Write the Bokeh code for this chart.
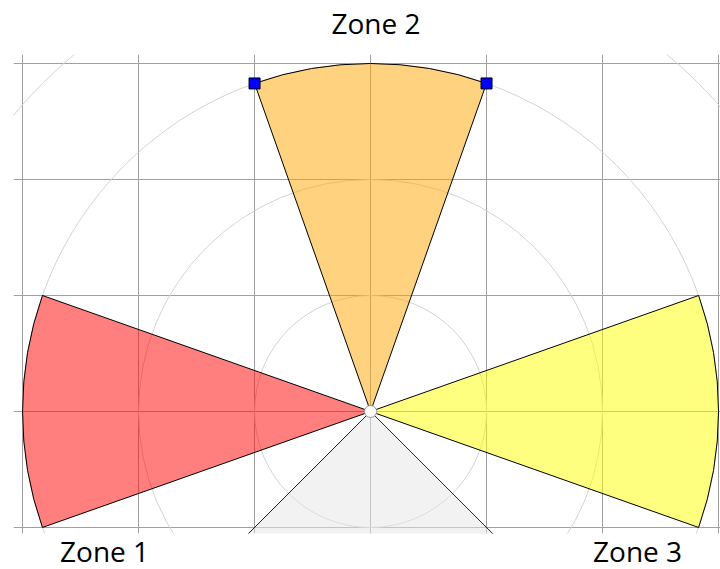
import math
from bokeh.plotting import figure
from bokeh.models import Range1d, FixedTicker, LinearAxis
from bokeh.embed import file_html
from bokeh.resources import INLINE

# Data
zone_names = ["Zone 1", "Zone 2", "Zone 3"]
zone_center_deg = [180, 90, 0]
zone_half_width_deg = [19.47, 19.47, 19.47]
zone_radius = [3, 3, 3]
zone_colors = ["red", "orange", "yellow"]
dead_center_deg = 270
dead_half_width_deg = 45
dead_radius = 3
ring_radii = [1, 2, 3, 4]
grid_ticks = [-3, -2, -1, 0, 1, 2, 3]
label_x = [-2.293, 0.047, 2.302]

p = figure(frame_width=707, frame_height=479, output_backend="svg", toolbar_location=None,
           x_range=Range1d(-3.078, 3.017), y_range=Range1d(-1.052, 3.078),
           min_border_left=13, min_border_right=0, min_border_top=54, min_border_bottom=36)
p.yaxis.visible = False
p.outline_line_color = None
p.xgrid.ticker = FixedTicker(ticks=grid_ticks)
p.ygrid.ticker = FixedTicker(ticks=grid_ticks)
p.grid.grid_line_color = "#a0a0a0"
p.grid.grid_line_width = 1
p.grid.grid_line_alpha = 1.0

def style_axis(ax, ticks, names, standoff):
    ax.ticker = FixedTicker(ticks=ticks)
    ax.major_label_overrides = {t: n for t, n in zip(ticks, names)}
    ax.axis_line_color = None
    ax.major_tick_line_color = None
    ax.minor_tick_line_color = None
    ax.major_tick_out = 0
    ax.major_tick_in = 0
    ax.minor_tick_out = 0
    ax.minor_tick_in = 0
    ax.major_label_standoff = standoff
    ax.major_label_text_font = "Open Sans"
    ax.major_label_text_font_size = "28px"
    ax.major_label_text_color = "black"

# bottom labels: Zone 1 and Zone 3
style_axis(p.xaxis[0], [label_x[0], label_x[2]], [zone_names[0], zone_names[2]], -2)
# top label: Zone 2
top_axis = LinearAxis()
style_axis(top_axis, [label_x[1]], [zone_names[1]], 13)
p.add_layout(top_axis, "above")

# polar rings
p.circle(x=[0] * len(ring_radii), y=[0] * len(ring_radii), radius=ring_radii,
         fill_color=None, line_color="#d3d3d3", line_width=1)

# dead zone
p.wedge(x=0, y=0, radius=dead_radius,
        start_angle=math.radians(dead_center_deg - dead_half_width_deg),
        end_angle=math.radians(dead_center_deg + dead_half_width_deg),
        fill_color="#e6e6e6", fill_alpha=0.5, line_color="#222222", line_width=1)

# zones
for c, hw, r, col in zip(zone_center_deg, zone_half_width_deg, zone_radius, zone_colors):
    p.wedge(x=0, y=0, radius=r,
            start_angle=math.radians(c - hw), end_angle=math.radians(c + hw),
            fill_color=col, fill_alpha=0.5, line_color="black", line_width=1)

# handles on zone 2 corners
c2, hw2, r2 = zone_center_deg[1], zone_half_width_deg[1], zone_radius[1]
hx = [r2 * math.cos(math.radians(c2 - hw2)), r2 * math.cos(math.radians(c2 + hw2))]
hy = [r2 * math.sin(math.radians(c2 - hw2)), r2 * math.sin(math.radians(c2 + hw2))]
p.scatter(x=hx, y=hy, marker="square", size=11, fill_color="blue", line_color="black", line_width=1)

# center
p.scatter(x=[0], y=[0], marker="circle", size=12, fill_color="white", line_color="#999999", line_width=1)

open("out.html", "w").write(file_html(p, INLINE))
